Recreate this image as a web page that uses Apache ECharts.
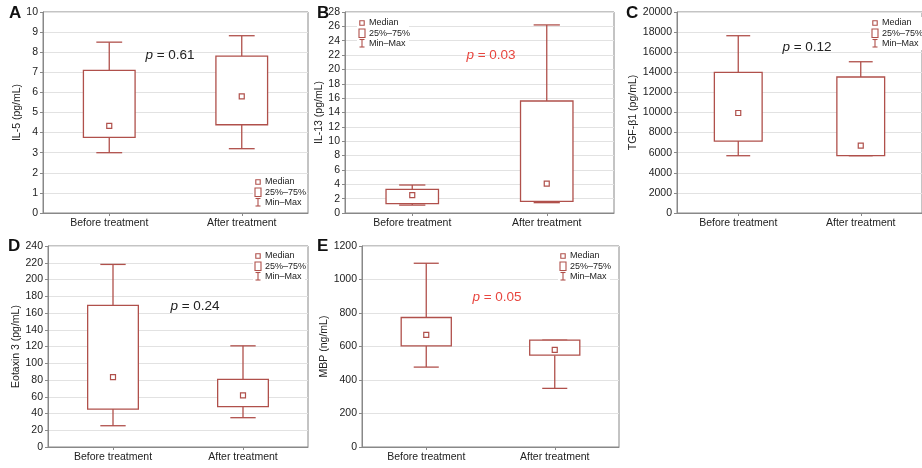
<!DOCTYPE html>
<html>
<head>
<meta charset="utf-8">
<script src="https://cdn.jsdelivr.net/npm/echarts@6/dist/echarts.min.js"></script>
<style>html,body{margin:0;padding:0;background:#fff}#c{width:922px;height:468px}</style>
</head>
<body>
<div id="c"></div>
<script>
// ---- data ----
const categories = ['Before treatment', 'After treatment'];
// each row: [min, Q1, median, Q3, max]
const il5Values = [[3.0, 3.76, 4.33, 7.1, 8.5], [3.2, 4.39, 5.8, 7.8, 8.82]];
const il13Values = [[1.1, 1.3, 2.5, 3.3, 3.9], [1.44, 1.62, 4.1, 15.6, 26.2]];
const tgfValues = [[5700, 7160, 9950, 14000, 17640], [5700, 5700, 6700, 13530, 15050]];
const eotaxinValues = [[25.4, 45.3, 83.4, 169, 218], [35, 48.1, 61.6, 80.7, 120.8]];
const mbpValues = [[477, 604, 670, 773, 1097], [350, 548, 580, 638, 638]];
const yNames = ['IL-5 (pg/mL)', 'IL-13 (pg/mL)', 'TGF-β1 (pg/mL)', 'Eotaxin 3 (pg/mL)', 'MBP (ng/mL)'];
const yMax = [10, 28, 20000, 240, 1200];
const yInterval = [1, 2, 2000, 20, 200];
const panelLetters = ['A', 'B', 'C', 'D', 'E'];
const pValues = ['0.61', '0.03', '0.12', '0.24', '0.05'];
const legendLabels = ['Median', '25%–75%', 'Min–Max'];

const allValues = [il5Values, il13Values, tgfValues, eotaxinValues, mbpValues];

// ---- layout / style ----
const FONT = "'Liberation Sans', Arial, Helvetica, sans-serif";
const BOX = '#b0504b';
const RED = '#e8463f';
const TXT = '#222';
const grids = [
  {left: 43, top: 12, width: 265, height: 201},
  {left: 345, top: 12, width: 269, height: 201},
  {left: 677, top: 12, width: 250, height: 201},
  {left: 48, top: 246, width: 260, height: 201},
  {left: 362, top: 246, width: 257, height: 201}
];
const nameGaps = [20, 13, 35, 25, 30];
const pPos = [[170, 55, false], [491, 55, true], [807, 47, false], [195, 306, false], [497, 297, true]];
const legendPos = [[258, 182], [362, 23], [875, 23], [258, 256], [563, 256]];
const letterPos = [[9, 5], [317, 5], [626, 5], [8, 238], [317, 238]];

function renderBox(params, api) {
  const c = api.value(0);
  const p = [1, 2, 3, 4, 5].map(i => api.coord([c, api.value(i)]));
  const cx = p[0][0];
  const bw = api.size([1, 0])[0] * 0.39;
  const cw = bw / 2;
  const st = {stroke: BOX, lineWidth: 1.3, fill: null};
  const ms = 5;
  return {
    type: 'group',
    children: [
      {type: 'line', shape: {x1: cx, y1: p[4][1], x2: cx, y2: p[3][1]}, style: st},
      {type: 'line', shape: {x1: cx - cw / 2, y1: p[4][1], x2: cx + cw / 2, y2: p[4][1]}, style: st},
      {type: 'line', shape: {x1: cx, y1: p[0][1], x2: cx, y2: p[1][1]}, style: st},
      {type: 'line', shape: {x1: cx - cw / 2, y1: p[0][1], x2: cx + cw / 2, y2: p[0][1]}, style: st},
      {type: 'rect', shape: {x: cx - bw / 2, y: p[3][1], width: bw, height: p[1][1] - p[3][1]}, style: {stroke: BOX, lineWidth: 1.3, fill: '#fff'}},
      {type: 'rect', shape: {x: cx - ms / 2, y: p[2][1] - ms / 2, width: ms, height: ms}, style: {stroke: BOX, lineWidth: 1.2, fill: '#fff'}}
    ]
  };
}

const xAxis = [], yAxis = [], series = [], graphic = [];
grids.forEach((g, i) => {
  xAxis.push({
    type: 'category', gridIndex: i, data: categories, boundaryGap: true,
    axisLine: {show: true, lineStyle: {color: '#888', width: 1}},
    axisTick: {show: true, alignWithLabel: true, length: 3, lineStyle: {color: '#888'}},
    axisLabel: {color: TXT, fontFamily: FONT, fontSize: 10.5, margin: 5},
    splitLine: {show: false}
  });
  yAxis.push({
    type: 'value', gridIndex: i, min: 0, max: yMax[i], interval: yInterval[i],
    name: yNames[i], nameLocation: 'middle', nameGap: nameGaps[i], nameRotate: 90,
    nameTextStyle: {color: TXT, fontFamily: FONT, fontSize: 10.5},
    axisLine: {show: true, lineStyle: {color: '#888', width: 1}},
    axisTick: {show: true, length: 3, lineStyle: {color: '#888'}},
    axisLabel: {color: TXT, fontFamily: FONT, fontSize: 10.5, margin: 5, formatter: v => String(v)},
    splitLine: {show: true, lineStyle: {color: '#e2e2e2', width: 1}}
  });
  series.push({
    type: 'custom', xAxisIndex: i, yAxisIndex: i, renderItem: renderBox,
    encode: {x: 0, y: [1, 2, 3, 4, 5]},
    data: allValues[i].map((v, k) => [k].concat(v)),
    clip: false, silent: true, z: 5
  });
  // panel letter
  graphic.push({type: 'text', left: letterPos[i][0], top: letterPos[i][1], z: 100,
    style: {text: panelLetters[i], font: 'bold 17px ' + FONT, fill: '#111'}});
  // p-value
  const pp = pPos[i];
  graphic.push({type: 'text', x: pp[0], y: pp[1], z: 100,
    style: {
      text: '{i|p} = ' + pValues[i], align: 'center', verticalAlign: 'middle',
      font: '13.5px ' + FONT, fill: pp[2] ? RED : TXT,
      rich: {i: {fontStyle: 'italic', fontSize: 13.5, fontFamily: FONT, fill: pp[2] ? RED : TXT}}
    }});
  // legend
  const lx = legendPos[i][0], ly = legendPos[i][1];
  const ls = {stroke: BOX, lineWidth: 1.1, fill: '#fff'};
  graphic.push({type: 'group', x: lx, y: ly, z: 100, children: [
    {type: 'rect', z: 100, shape: {x: -5, y: -6, width: 52, height: 33}, style: {fill: '#fff', stroke: null}},
    {type: 'rect', z: 101, shape: {x: -2.2, y: -2.2, width: 4.4, height: 4.4}, style: ls},
    {type: 'rect', z: 101, shape: {x: -3, y: 6, width: 6, height: 8.5}, style: ls},
    {type: 'line', z: 101, shape: {x1: 0, y1: 16.5, x2: 0, y2: 24}, style: ls},
    {type: 'line', z: 101, shape: {x1: -2.5, y1: 16.5, x2: 2.5, y2: 16.5}, style: ls},
    {type: 'line', z: 101, shape: {x1: -2.5, y1: 24, x2: 2.5, y2: 24}, style: ls},
    {type: 'text', z: 101, x: 7, y: 0, style: {text: legendLabels[0], font: '9px ' + FONT, fill: TXT, verticalAlign: 'middle'}},
    {type: 'text', z: 101, x: 7, y: 10.3, style: {text: legendLabels[1], font: '9px ' + FONT, fill: TXT, verticalAlign: 'middle'}},
    {type: 'text', z: 101, x: 7, y: 20.6, style: {text: legendLabels[2], font: '9px ' + FONT, fill: TXT, verticalAlign: 'middle'}}
  ]});
});

const chart = echarts.init(document.getElementById('c'), null, {renderer: 'canvas'});
chart.setOption({
  animation: false,
  backgroundColor: '#fff',
  grid: grids.map(g => Object.assign({show: true, borderColor: '#888', borderWidth: 1, backgroundColor: 'transparent'}, g)),
  xAxis: xAxis,
  yAxis: yAxis,
  series: series,
  graphic: graphic
});
</script>
</body>
</html>
